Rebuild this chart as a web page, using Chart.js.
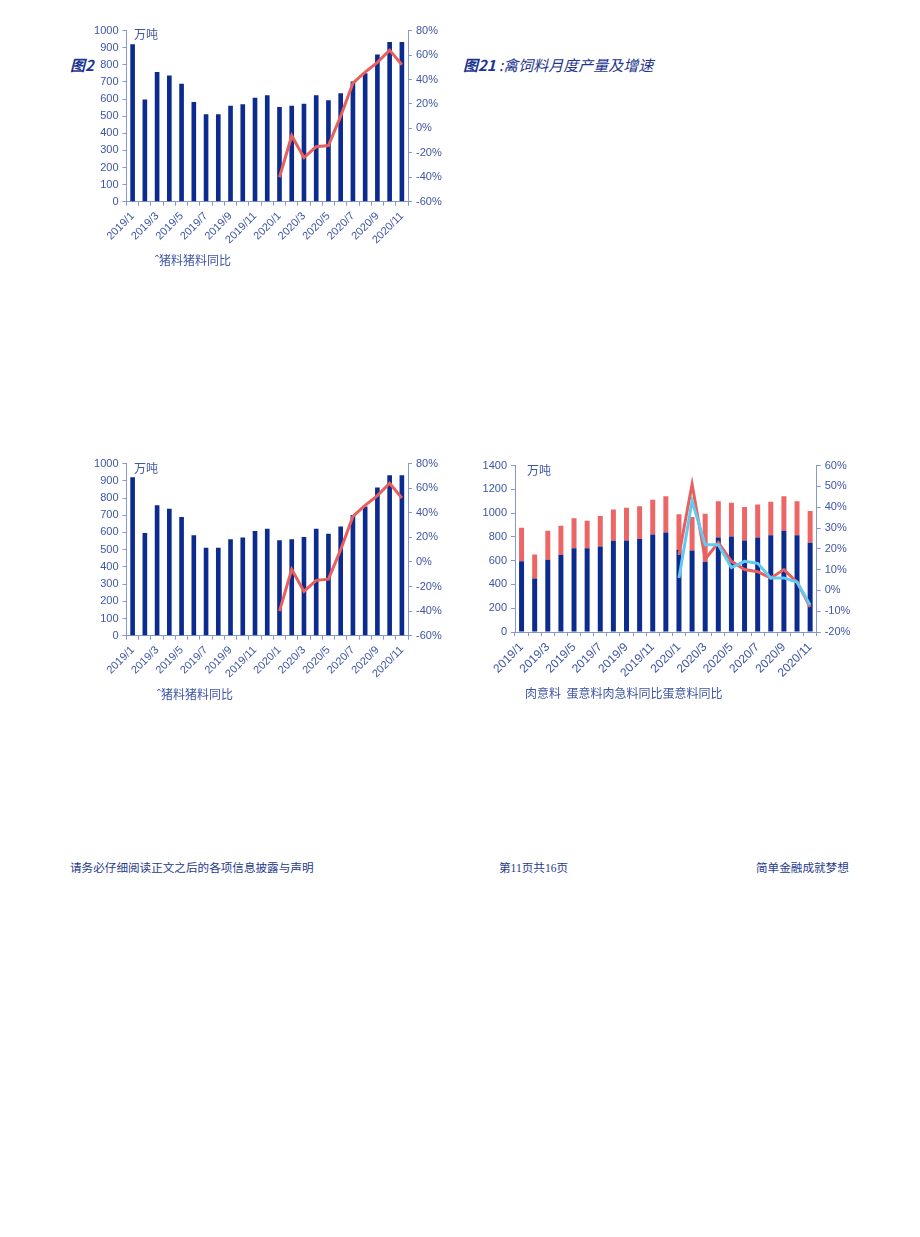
<!DOCTYPE html>
<html>
<head>
<meta charset="utf-8">
<script src="https://cdn.jsdelivr.net/npm/chart.js@4/dist/chart.umd.min.js"></script>
<style>
body { margin:0; background:#fff; width:920px; height:1237px; position:relative; overflow:hidden;
  font-family:"Liberation Sans","Noto Sans CJK SC",sans-serif; }
.box { position:absolute; }
.txt { position:absolute; white-space:nowrap; color:#3f55a5; font-family:"Noto Sans CJK SC",sans-serif; }
.title { color:#1d3590; font-style:italic; font-size:15px; }
.foot { color:#1f3a8f; font-size:11.6px; }
</style>
</head>
<body>

<div class="txt title" style="left:70px;top:54px;font-weight:bold;">图2</div>
<div class="txt title" style="left:463px;top:54px;"><b>图21</b> :禽饲料月度产量及增速</div>

<div class="box" style="left:62px;top:20px;width:392px;height:232px;"><canvas id="c1"></canvas></div>
<div class="box" style="left:62px;top:453px;width:392px;height:233px;"><canvas id="c2"></canvas></div>
<div class="box" style="left:470px;top:455px;width:392px;height:229px;"><canvas id="c3"></canvas></div>

<div class="txt" style="left:134px;top:25px;font-size:12px;">万吨</div>
<div class="txt" style="left:134px;top:459px;font-size:12px;">万吨</div>
<div class="txt" style="left:527px;top:461px;font-size:12px;">万吨</div>

<div class="txt" style="left:155px;top:251px;font-size:12px;">ˆ猪料猪料同比</div>
<div class="txt" style="left:157px;top:685px;font-size:12px;">ˆ猪料猪料同比</div>
<div class="txt" style="left:525px;top:684px;font-size:12px;">肉意料&nbsp; 蛋意料肉急料同比蛋意料同比</div>

<div class="txt foot" style="left:70px;top:859px;">请务必仔细阅读正文之后的各项信息披露与声明</div>
<div class="txt foot" style="left:499px;top:859px;font-family:'Liberation Serif','Noto Sans CJK SC',serif;">第11页共16页</div>
<div class="txt foot" style="left:756px;top:859px;">简单金融成就梦想</div>

<script>
// categories
var months = ['2019/1','2019/2','2019/3','2019/4','2019/5','2019/6','2019/7','2019/8','2019/9','2019/10','2019/11','2019/12',
              '2020/1','2020/2','2020/3','2020/4','2020/5','2020/6','2020/7','2020/8','2020/9','2020/10','2020/11'];

// 猪料 (万吨) and 同比 (%)
var pigFeed = [920,597,758,737,690,583,511,511,561,570,608,622,554,561,573,622,593,634,702,751,861,933,933];
var pigYoY  = [null,null,null,null,null,null,null,null,null,null,null,null,
               -40,-6,-24,-15,-14,10,37,46,54,64,52];

// 肉禽料 / 蛋禽料 (万吨) and 同比 (%)
var meatFeed  = [595,450,608,648,705,705,720,768,770,782,820,837,692,686,590,795,803,770,795,815,851,815,750];
var layerFeed = [283,201,243,245,251,232,256,263,275,276,292,305,298,282,405,305,284,281,278,280,291,285,267];
var meatYoY   = [null,null,null,null,null,null,null,null,null,null,null,null,
                 17,51,15,23,14,10,9,6,10,4,-8];
var layerYoY  = [null,null,null,null,null,null,null,null,null,null,null,null,
                 6,43,22,22,11,14,13,6,6,4,-7];

var navy = '#0b2b8e';
var red = '#e8605e';
var cyan = '#62caf1';
var tickColor = '#3f55a5';
var axisColor = '#8797cf';

function xAxis(fontSize, h) {
  return {
    offset: true,
    grid: { display: true, drawOnChartArea: false, tickLength: 4, color: axisColor, offset: true },
    border: { color: axisColor },
    ticks: {
      autoSkip: false, maxRotation: 45, minRotation: 45, padding: 4,
      color: tickColor, font: { size: fontSize, family: 'Liberation Sans' },
      callback: function (v, i) { return i % 2 === 0 ? months[i] : ''; }
    },
    afterFit: function (s) { s.height = h; }
  };
}

function yAxis(pos, min, max, step, suffix, w) {
  return {
    position: pos, min: min, max: max,
    grid: { display: true, drawOnChartArea: false, tickLength: 4, color: axisColor },
    border: { color: axisColor },
    ticks: {
      stepSize: step, padding: 4, color: tickColor,
      font: { size: 11, family: 'Liberation Sans' },
      callback: function (v) { return v + suffix; }
    },
    afterFit: function (s) { s.width = w; }
  };
}

function pigChart(id, xh) {
  new Chart(document.getElementById(id).getContext('2d'), {
    data: {
      labels: months,
      datasets: [
        { type: 'line', data: pigYoY, yAxisID: 'y1', borderColor: red, borderWidth: 3,
          pointRadius: 0, tension: 0, order: 0 },
        { type: 'bar', data: pigFeed, yAxisID: 'y', backgroundColor: navy,
          categoryPercentage: 1, barPercentage: 0.38, order: 1 }
      ]
    },
    options: {
      responsive: true, maintainAspectRatio: false, animation: false,
      layout: { padding: { top: 8, right: 0, left: 0, bottom: 0 } },
      plugins: { legend: { display: false }, tooltip: { enabled: false } },
      scales: {
        x: xAxis(11, xh),
        y: yAxis('left', 0, 1000, 100, '', 64.5),
        y1: yAxis('right', -60, 80, 20, '%', 46)
      }
    }
  });
}

pigChart('c1', 50.3);
pigChart('c2', 50.3);

new Chart(document.getElementById('c3').getContext('2d'), {
  data: {
    labels: months,
    datasets: [
      { type: 'line', data: layerYoY, yAxisID: 'y1', borderColor: cyan, borderWidth: 3,
        pointRadius: 0, tension: 0, order: 0 },
      { type: 'line', data: meatYoY, yAxisID: 'y1', borderColor: red, borderWidth: 3,
        pointRadius: 0, tension: 0, order: 1 },
      { type: 'bar', data: meatFeed, yAxisID: 'y', backgroundColor: navy,
        categoryPercentage: 1, barPercentage: 0.38, order: 2 },
      { type: 'bar', data: layerFeed, yAxisID: 'y', backgroundColor: '#ec6666',
        categoryPercentage: 1, barPercentage: 0.38, order: 3 }
    ]
  },
  options: {
    responsive: true, maintainAspectRatio: false, animation: false,
    layout: { padding: { top: 8, right: 0, left: 0, bottom: 0 } },
    plugins: { legend: { display: false }, tooltip: { enabled: false } },
    scales: {
      x: Object.assign(xAxis(12, 52), { stacked: true }),
      y: Object.assign(yAxis('left', 0, 1400, 200, '', 45), { stacked: true }),
      y1: yAxis('right', -20, 60, 10, '%', 45.3)
    }
  }
});
</script>
</body>
</html>
